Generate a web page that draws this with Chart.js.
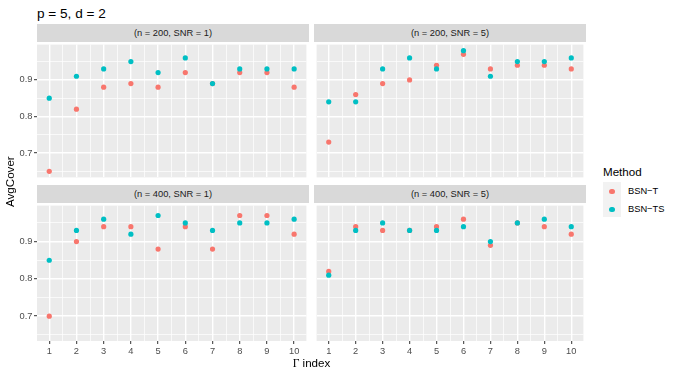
<!DOCTYPE html>
<html><head><meta charset="utf-8">
<script src="https://cdn.jsdelivr.net/npm/chart.js@4/dist/chart.umd.min.js"></script>
<style>
body{margin:0;width:675px;height:375px;background:#fff;position:relative;overflow:hidden;font-family:"Liberation Sans",Arial,sans-serif;}
canvas{position:absolute;}
.t{position:absolute;white-space:nowrap;}
.strip{position:absolute;background:#D9D9D9;color:#1A1A1A;font-size:9.3px;text-align:center;height:18px;line-height:18px;}
.key{position:absolute;left:603px;width:17.5px;height:17.5px;background:#F2F2F2;}
.dot{position:absolute;width:5.2px;height:5.2px;border-radius:50%;}
</style></head><body>
<div class="t" style="left:37px;top:6px;height:15px;line-height:15px;font-size:13.6px;color:#000;">p = 5, d = 2</div>

<div class="strip" style="left:37px;top:24px;width:272px;">(n = 200, SNR = 1)</div>
<div class="strip" style="left:314px;top:24px;width:272px;">(n = 200, SNR = 5)</div>
<div class="strip" style="left:37px;top:185px;width:272px;">(n = 400, SNR = 1)</div>
<div class="strip" style="left:314px;top:185px;width:272px;">(n = 400, SNR = 5)</div>

<canvas id="c1" width="309" height="138" style="left:0;top:42px;"></canvas>
<canvas id="c2" width="272" height="138" style="left:314px;top:42px;"></canvas>
<canvas id="c3" width="309" height="160" style="left:0;top:203px;"></canvas>
<canvas id="c4" width="272" height="160" style="left:314px;top:203px;"></canvas>

<div class="t" style="left:0;top:175px;width:20px;height:16px;line-height:16px;font-size:11.6px;color:#000;transform-origin:10px 8px;transform:rotate(-90deg);text-align:center;"><span style="position:relative;left:-14px;">AvgCover</span></div>
<div class="t" style="left:261.5px;width:100px;text-align:center;top:355px;height:16px;line-height:16px;font-size:11.6px;color:#000;"><span style="font-family:'Liberation Serif',serif;">Γ</span> index</div>

<div class="t" style="left:603px;top:164px;height:15px;line-height:15px;font-size:11.6px;color:#000;">Method</div>
<div class="key" style="top:182px;"></div>
<div class="key" style="top:199.5px;"></div>
<div class="dot" style="left:609.4px;top:189.1px;background:#F8766D;"></div>
<div class="dot" style="left:609.4px;top:206.7px;background:#00BFC4;"></div>
<div class="t" style="left:628px;top:184px;height:15px;line-height:15px;font-size:9.3px;color:#000;">BSN−T</div>
<div class="t" style="left:628px;top:201.6px;height:15px;line-height:15px;font-size:9.3px;color:#000;">BSN−TS</div>

<script>
// ---- data ----
const gammaIndex = [1, 2, 3, 4, 5, 6, 7, 8, 9, 10];
const xTickLabels = ['1', '2', '3', '4', '5', '6', '7', '8', '9', '10'];
const yTickValues = [0.7, 0.8, 0.9];
const yTickLabels = ['0.7', '0.8', '0.9'];
const methods = ['BSN−T', 'BSN−TS'];

const n200snr1_T  = [0.65, 0.82, 0.88, 0.89, 0.88, 0.92, 0.89, 0.92, 0.92, 0.88];
const n200snr1_TS = [0.85, 0.91, 0.93, 0.95, 0.92, 0.96, 0.89, 0.93, 0.93, 0.93];
const n200snr5_T  = [0.73, 0.86, 0.89, 0.90, 0.94, 0.97, 0.93, 0.94, 0.94, 0.93];
const n200snr5_TS = [0.84, 0.84, 0.93, 0.96, 0.93, 0.98, 0.91, 0.95, 0.95, 0.96];
const n400snr1_T  = [0.70, 0.90, 0.94, 0.94, 0.88, 0.94, 0.88, 0.97, 0.97, 0.92];
const n400snr1_TS = [0.85, 0.93, 0.96, 0.92, 0.97, 0.95, 0.93, 0.95, 0.95, 0.96];
const n400snr5_T  = [0.82, 0.94, 0.93, 0.93, 0.94, 0.96, 0.89, 0.95, 0.94, 0.92];
const n400snr5_TS = [0.81, 0.93, 0.95, 0.93, 0.93, 0.94, 0.90, 0.95, 0.96, 0.94];

// ---- styling ----
const COL_T = '#F8766D', COL_TS = '#00BFC4';
const FONT = {family: "'Liberation Sans', Arial, sans-serif", size: 9.3};
const X_MIN = 0.55, X_MAX = 10.45, Y_MIN = 0.6335, Y_MAX = 0.9965;

// minor breaks halfway between major breaks (ggplot default)
function withMinor(major, lo, hi) {
  const step = major[1] - major[0];
  const all = [];
  for (let i = -1; i < major.length; i++) {
    const m = (i < 0 ? major[0] - step : major[i]) + step / 2;
    if (i >= 0) all.push(major[i]);
    if (m > lo && m < hi) all.push(+m.toFixed(4));
  }
  return all.sort((a, b) => a - b);
}
const xAll = withMinor(gammaIndex, X_MIN, X_MAX);
const yAll = withMinor(yTickValues, Y_MIN, Y_MAX);
const isMajor = (list, v) => list.some(m => Math.abs(m - v) < 1e-6);

const bgPlugin = {
  id: 'panelBg',
  beforeDraw(chart) {
    const a = chart.chartArea, c = chart.ctx;
    c.save(); c.fillStyle = '#EBEBEB';
    c.fillRect(a.left, a.top, a.right - a.left, a.bottom - a.top);
    c.restore();
  }
};

function noPad(s) { s.paddingTop = 0; s.paddingBottom = 0; s.paddingLeft = 0; s.paddingRight = 0; }

function panel(id, tVals, tsVals, showX, showY) {
  const pts = vals => gammaIndex.map((x, i) => ({x: x, y: vals[i]}));
  new Chart(document.getElementById(id), {
    type: 'scatter',
    data: {
      datasets: [
        {label: methods[1], data: pts(tsVals), backgroundColor: COL_TS, borderWidth: 0, pointRadius: 2.6, pointHoverRadius: 2.6},
        {label: methods[0], data: pts(tVals), backgroundColor: COL_T, borderWidth: 0, pointRadius: 2.6, pointHoverRadius: 2.6}
      ]
    },
    options: {
      responsive: false, animation: false, devicePixelRatio: 1,
      layout: {padding: 0},
      plugins: {legend: {display: false}, tooltip: {enabled: false}},
      scales: {
        x: {
          type: 'linear', min: X_MIN, max: X_MAX,
          afterBuildTicks: s => { s.ticks = xAll.map(v => ({value: v})); },
          afterFit: s => { s.height = showX ? 22 : 0; noPad(s); },
          border: {display: false},
          grid: {
            color: '#FFFFFF',
            lineWidth: c => isMajor(gammaIndex, c.tick.value) ? 1.4 : 0.7,
            drawTicks: showX, tickLength: 3, tickWidth: 1,
            tickColor: c => isMajor(gammaIndex, c.tick.value) ? '#333333' : 'rgba(0,0,0,0)'
          },
          ticks: {
            display: showX, autoSkip: false, maxRotation: 0, padding: 2,
            color: '#4D4D4D', font: FONT,
            callback: v => { const i = gammaIndex.findIndex(m => Math.abs(m - v) < 1e-6); return i >= 0 ? xTickLabels[i] : ''; }
          }
        },
        y: {
          type: 'linear', min: Y_MIN, max: Y_MAX,
          afterBuildTicks: s => { s.ticks = yAll.map(v => ({value: v})); },
          afterFit: s => { s.width = showY ? 37 : 0; noPad(s); },
          border: {display: false},
          grid: {
            color: '#FFFFFF',
            lineWidth: c => isMajor(yTickValues, c.tick.value) ? 1.4 : 0.7,
            drawTicks: showY, tickLength: 3, tickWidth: 1,
            tickColor: c => isMajor(yTickValues, c.tick.value) ? '#333333' : 'rgba(0,0,0,0)'
          },
          ticks: {
            display: showY, autoSkip: false, padding: 1.5,
            color: '#4D4D4D', font: FONT,
            callback: v => { const i = yTickValues.findIndex(m => Math.abs(m - v) < 1e-6); return i >= 0 ? yTickLabels[i] : ''; }
          }
        }
      }
    },
    plugins: [bgPlugin]
  });
}

panel('c1', n200snr1_T, n200snr1_TS, false, true);
panel('c2', n200snr5_T, n200snr5_TS, false, false);
panel('c3', n400snr1_T, n400snr1_TS, true, true);
panel('c4', n400snr5_T, n400snr5_TS, true, false);
</script>
</body></html>
